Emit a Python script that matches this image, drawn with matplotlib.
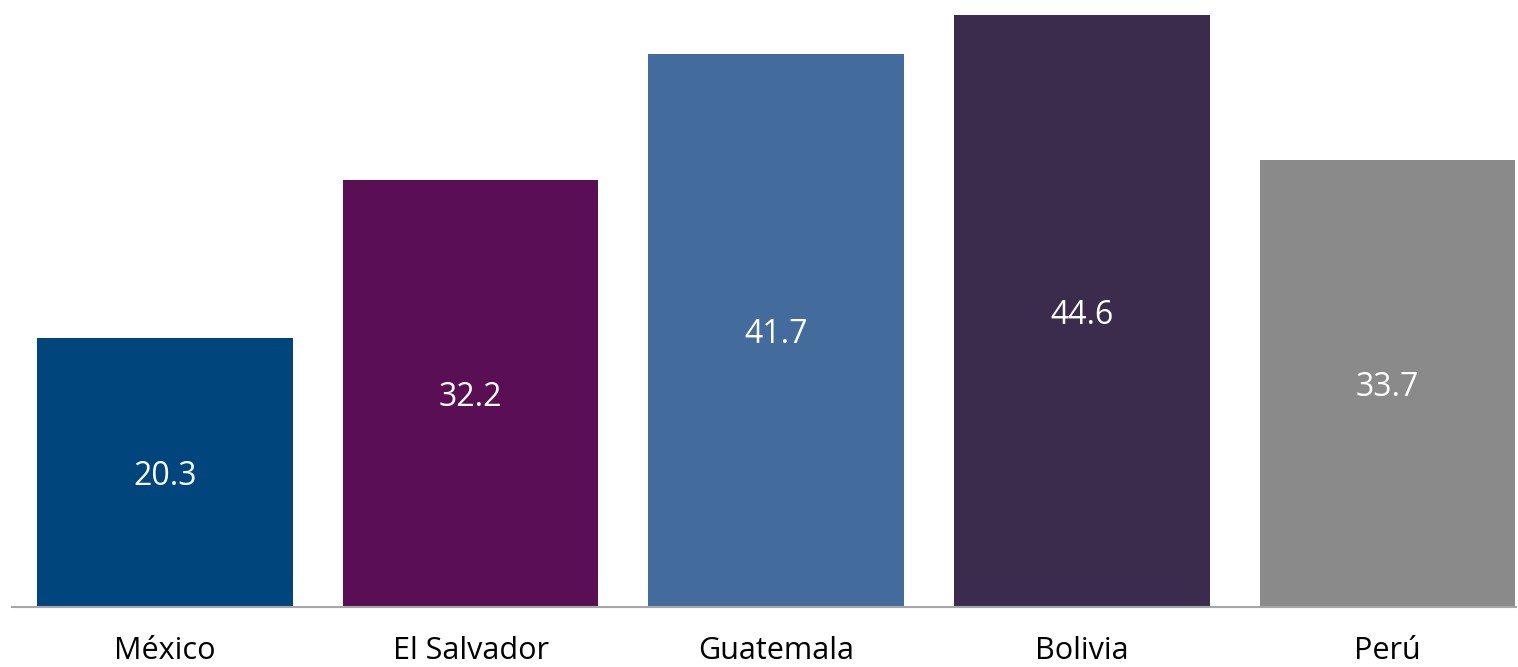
import matplotlib.pyplot as plt
import numpy as np

# Data
countries = ['México', 'El Salvador', 'Guatemala', 'Bolivia', 'Perú']
values = [20.3, 32.2, 41.7, 44.6, 33.7]
colors = ['#00457c', '#5a0f54', '#436b9c', '#3b2c4d', '#8a8a8a']

plt.rcParams['font.family'] = ['Open Sans', 'DejaVu Sans']

fig = plt.figure(figsize=(15.18, 6.67), dpi=100)
# axes placed so the baseline sits at y=607px and the left axis end at x=12px
ax = fig.add_axes([12 / 1518, 60 / 667, 1504 / 1518, 607 / 667])

x = np.arange(len(countries))
bars = ax.bar(x, values, width=0.836, color=colors)

for b, v in zip(bars, values):
    ax.text(b.get_x() + b.get_width() / 2, v / 2, f'{v:.1f}',
            ha='center', va='center_baseline', color='white', fontsize=23)

ax.set_xlim(-0.5, 4.42)
ax.set_ylim(0, 45.74)
ax.set_xticks(x)
ax.set_xticklabels(countries, fontsize=22)
ax.tick_params(axis='x', length=0, pad=21)
ax.set_yticks([])

for side in ['top', 'right', 'left']:
    ax.spines[side].set_visible(False)
ax.spines['bottom'].set_color('#a6a6a6')
ax.spines['bottom'].set_linewidth(1.5)

fig.savefig('out.png', dpi=100)
